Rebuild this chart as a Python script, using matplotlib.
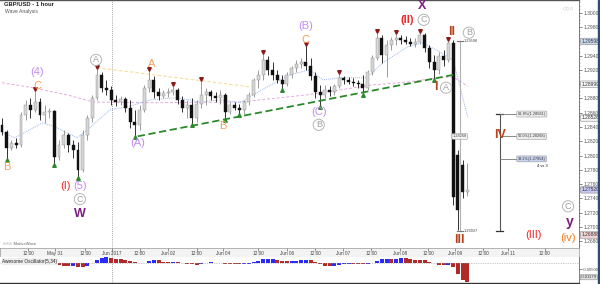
import matplotlib
matplotlib.use('Agg')
import matplotlib.pyplot as plt
from matplotlib.patches import Rectangle
from matplotlib.ticker import MultipleLocator, FixedLocator
import matplotlib.transforms as mtrans
import numpy as np
import pandas as pd

plt.rcParams['font.family'] = ['Liberation Sans', 'DejaVu Sans']

# ---------------- data (2-hour candles, GBP/USD) ----------------
opens = [1.2843,1.2833,1.2811,1.2818,1.2815,1.2857,1.2871,1.2864,1.2875,1.2857,
         1.2861,1.2862,1.2798,1.2815,1.2829,1.2815,1.2808,1.2780,1.2829,1.2853,
         1.2881,1.2913,1.2895,1.2892,1.2878,1.2875,1.2879,1.2867,1.2847,1.2843,
         1.2864,1.2895,1.2906,1.2889,1.2883,1.2888,1.2889,1.2892,1.2878,1.2867,
         1.2871,1.2853,1.2872,1.2885,1.2889,1.2883,1.2881,1.2885,1.2861,1.2871,
         1.2867,1.2864,1.2875,1.2885,1.2906,1.2913,1.2934,1.2920,1.2913,1.2906,
         1.2900,1.2913,1.2923,1.2928,1.2931,1.2925,1.2911,1.2889,1.2885,1.2892,
         1.2889,1.2897,1.2909,1.2906,1.2903,1.2902,1.2900,1.2895,1.2917,1.2937,
         1.2965,1.2941,1.2955,1.2962,1.2965,1.2962,1.2959,1.2956,1.2959,1.2969,
         1.2951,1.2931,1.2920,1.2939,1.2934,1.2958,1.2801,1.2787,1.2749]
highs = [1.2853,1.2836,1.2822,1.2825,1.2861,1.2878,1.2881,1.2892,1.2881,1.2871,
         1.2867,1.2864,1.2822,1.2836,1.2832,1.2822,1.2819,1.2836,1.2857,1.2885,
         1.2923,1.2917,1.2906,1.2897,1.2885,1.2883,1.2882,1.2878,1.2864,1.2871,
         1.2899,1.2920,1.2911,1.2895,1.2892,1.2895,1.2899,1.2895,1.2883,1.2878,
         1.2881,1.2878,1.2907,1.2895,1.2892,1.2889,1.2892,1.2888,1.2875,1.2875,
         1.2872,1.2878,1.2889,1.2909,1.2920,1.2945,1.2939,1.2931,1.2920,1.2913,
         1.2917,1.2925,1.2934,1.2937,1.2955,1.2937,1.2917,1.2899,1.2899,1.2897,
         1.2900,1.2917,1.2911,1.2910,1.2909,1.2906,1.2913,1.2920,1.2941,1.2974,
         1.2969,1.2962,1.2966,1.2973,1.2969,1.2967,1.2965,1.2965,1.2974,1.2972,
         1.2955,1.2941,1.2945,1.2948,1.2963,1.2962,1.2808,1.2794,1.2790]
lows = [1.2829,1.2794,1.2808,1.2811,1.2812,1.2850,1.2853,1.2861,1.2850,1.2846,
        1.2853,1.2787,1.2794,1.2811,1.2805,1.2797,1.2769,1.2777,1.2822,1.2847,
        1.2878,1.2889,1.2885,1.2871,1.2869,1.2871,1.2861,1.2839,1.2827,1.2836,
        1.2861,1.2889,1.2881,1.2878,1.2881,1.2882,1.2885,1.2872,1.2861,1.2853,
        1.2843,1.2847,1.2867,1.2871,1.2878,1.2875,1.2872,1.2851,1.2858,1.2864,
        1.2857,1.2858,1.2871,1.2882,1.2895,1.2906,1.2913,1.2906,1.2902,1.2892,
        1.2897,1.2909,1.2917,1.2923,1.2920,1.2906,1.2881,1.2868,1.2881,1.2883,
        1.2885,1.2895,1.2900,1.2900,1.2897,1.2895,1.2885,1.2892,1.2913,1.2934,
        1.2930,1.2910,1.2948,1.2955,1.2956,1.2956,1.2953,1.2952,1.2956,1.2945,
        1.2923,1.2906,1.2914,1.2925,1.2931,1.2731,1.2696,1.2741,1.2743]
closes = [1.2833,1.2811,1.2818,1.2815,1.2857,1.2871,1.2864,1.2875,1.2857,1.2861,
          1.2862,1.2798,1.2815,1.2829,1.2815,1.2808,1.2780,1.2829,1.2853,1.2881,
          1.2913,1.2895,1.2892,1.2878,1.2875,1.2879,1.2867,1.2847,1.2843,1.2864,
          1.2895,1.2906,1.2889,1.2883,1.2888,1.2889,1.2892,1.2878,1.2867,1.2871,
          1.2853,1.2872,1.2885,1.2889,1.2883,1.2881,1.2885,1.2861,1.2871,1.2867,
          1.2864,1.2875,1.2885,1.2906,1.2913,1.2934,1.2920,1.2913,1.2906,1.2900,
          1.2913,1.2923,1.2928,1.2931,1.2925,1.2911,1.2889,1.2885,1.2892,1.2889,
          1.2897,1.2909,1.2906,1.2903,1.2902,1.2900,1.2895,1.2917,1.2937,1.2965,
          1.2941,1.2955,1.2962,1.2965,1.2962,1.2959,1.2956,1.2959,1.2969,1.2951,
          1.2931,1.2920,1.2939,1.2934,1.2958,1.2742,1.2724,1.2749,1.2752]

swing_high_idx = [7, 20, 31, 36, 42, 55, 64, 71, 79, 83, 88, 94]
swing_low_idx = [1, 11, 16, 28, 40, 47, 50, 59, 67, 76, 91]

# moving averages (bar index, price)
ma_slow_x = [0, 6.5, 13.7, 19.2, 31.2, 50.1, 64.2, 71.2, 78.1, 85.3, 92.2, 95.0, 98.1]
ma_slow_y = [1.2902, 1.2895, 1.2885, 1.2875, 1.2874, 1.2875, 1.2885, 1.2892, 1.2899,
             1.2903, 1.2909, 1.2910, 1.2897]
ma_fast_x = [0, 2.7, 8.6, 11.2, 15.8, 18.5, 22.7, 26.9, 31.2, 36.8, 41.7, 45.9, 50.1,
             55.8, 60.6, 64.8, 67.6, 71.2, 76.8, 80.2, 85.3, 88.6, 92.2, 95.0, 98.1]
ma_fast_y = [1.2833, 1.2825, 1.2846, 1.2840, 1.2825, 1.2839, 1.2864, 1.2869, 1.2878,
             1.2881, 1.2875, 1.2878, 1.2874, 1.2896, 1.2913, 1.2920, 1.2906, 1.2909,
             1.2909, 1.2930, 1.2952, 1.2958, 1.2945, 1.2934, 1.2853]

trend_x = [28.6, 95.0]
trend_y = [1.2827, 1.2913]
yellow_x = [20.0, 53.7]
yellow_y = [1.2923, 1.2895]

# wave labels: (bar, price, text, colour, size, weight, circled)
LP = '#c38cf2'; OR = '#f6a25a'; RD = '#f02828'; BR = '#b5441c'; DP = '#7b1f7e'; GR = '#a0a0a0'
wave_labels = [
    (1.0, 1.2784, 'B', OR, 8, 'normal', False),
    (7.4, 1.2917, '(4)', LP, 8, 'normal', False),
    (7.4, 1.2898, 'C', OR, 8, 'normal', False),
    (13.4, 1.2757, '(I)', RD, 8, 'normal', False),
    (16.4, 1.2757, '(5)', LP, 8, 'normal', False),
    (16.4, 1.2739, 'C', GR, 6.5, 'normal', True),
    (16.4, 1.2718, 'W', DP, 9, 'bold', False),
    (19.8, 1.2934, 'A', GR, 6.5, 'normal', True),
    (28.6, 1.2818, '(A)', LP, 8, 'normal', False),
    (31.6, 1.2928, 'A', OR, 8, 'normal', False),
    (46.5, 1.2841, 'B', OR, 8, 'normal', False),
    (64.0, 1.2981, '(B)', LP, 8, 'normal', False),
    (64.0, 1.2962, 'C', OR, 8, 'normal', False),
    (66.7, 1.2861, '(C)', LP, 8, 'normal', False),
    (66.7, 1.2843, 'B', GR, 6.5, 'normal', True),
    (85.3, 1.2990, '(II)', RD, 8, 'bold', False),
    (88.8, 1.2990, 'C', GR, 6.5, 'normal', True),
    (88.4, 1.3010, 'X', DP, 9, 'bold', False),
    (91.4, 1.2896, 'I', BR, 9, 'bold', False),
    (93.5, 1.2895, 'A', GR, 6.5, 'normal', True),
    (94.7, 1.2973, 'II', BR, 9, 'bold', False),
    (98.3, 1.2972, 'B', GR, 6.5, 'normal', True),
    (96.4, 1.2682, 'III', BR, 9, 'bold', False),
    (104.8, 1.2829, 'IV', BR, 9, 'bold', False),
    (112.0, 1.2689, '(III)', RD, 8, 'normal', False),
    (119.2, 1.2729, 'C', GR, 6.5, 'normal', True),
    (119.6, 1.2707, 'y', DP, 10, 'bold', False),
    (119.2, 1.2685, '(iv)', '#f07a1e', 8, 'normal', False),
]

# measurement / fibonacci tool values
meas_top, meas_bot = 1.29598, 1.26937
fib_levels = [0.618, 0.5, 0.382]

price_ticks = [1.268, 1.270, 1.272, 1.274, 1.276, 1.278, 1.280, 1.282, 1.284, 1.286,
               1.288, 1.290, 1.292, 1.294, 1.296, 1.298, 1.300]
price_boxes = [(1.29598, '1.29598', '#c9daf0'), (1.28999, '1.28999', '#f4f4f4'),
               (1.28526, '1.28526', '#f4f4f4'), (1.27520, '1.27520', '#c6c8f2'),
               (1.26888, '1.26888', '#f2d4d4')]
ao_box_text = '-0.01179'

time_tick_pos = [5.5, 11.2, 17.5, 23.1, 29.0, 35.0, 41.0, 46.5, 53.9, 60.0, 65.9,
                 71.8, 77.7, 83.8, 89.7, 95.4, 101.3, 106.5, 114.3]
time_tick_lab = ['12:00', 'May 31', '12:00', 'Jun 2017', '12:00', 'Jun 02', '12:00',
                 'Jun 04', '12:00', 'Jun 06', '12:00', 'Jun 07', '12:00', 'Jun 08',
                 '12:00', 'Jun 09', '12:00', 'Jun 11', '12:00']
separator_pos = 23.1

# ---------------- figure ----------------
W, H = 600, 284
fig = plt.figure(figsize=(6, 2.84), dpi=100)
fig.patch.set_facecolor('white')

def px_ax(x0, y0, x1, y1):
    return fig.add_axes([x0 / W, 1 - y1 / H, (x1 - x0) / W, (y1 - y0) / H])

ax = px_ax(0, 0, 579, 248)
axt = px_ax(0, 248, 579, 257)
axo = px_ax(0, 257, 579, 283)

XMIN, XMAX = -0.42, 121.5
n = len(closes)
xs = np.arange(n)
o = np.array(opens); h = np.array(highs); l = np.array(lows); c = np.array(closes)

# candles
up = c >= o
ax.vlines(xs[up], l[up], h[up], colors='#8c8c8c', lw=0.6, zorder=3)
ax.vlines(xs[~up], l[~up], h[~up], colors='#111111', lw=0.6, zorder=3)
body_lo = np.minimum(o, c)
body_h = np.maximum(np.abs(c - o), 0.00005)
ax.bar(xs[up], body_h[up], bottom=body_lo[up], width=0.62, color='#d6d6d6',
       edgecolor='#8a8a8a', lw=0.3, zorder=4)
ax.bar(xs[~up], body_h[~up], bottom=body_lo[~up], width=0.62, color='#111111',
       edgecolor='#111111', lw=0.3, zorder=4)

# swing markers
ax.plot(xs[swing_high_idx], h[swing_high_idx] + 0.00005, 'v', color='#8b1a1a', ms=2.6, zorder=5)
ax.plot(xs[swing_low_idx], l[swing_low_idx] - 0.00005, '^', color='#2f8a2f', ms=2.6, zorder=5)

# moving averages, trend lines
ax.plot(ma_slow_x, ma_slow_y, color='#e8a8e0', lw=0.7, ls=(0, (3, 2)), zorder=2)
ax.plot(ma_fast_x, ma_fast_y, color='#9ab8f0', lw=0.7, ls=(0, (1, 1)), zorder=2)
ax.plot(trend_x, trend_y, color='#2a8a2a', lw=1.3, ls=(0, (4, 2)), zorder=6)
ax.plot(yellow_x, yellow_y, color='#f7dc9a', lw=0.8, ls=(0, (3, 2)), zorder=2)

# separator
for a in (ax, axt, axo):
    a.axvline(separator_pos, color='#888888', lw=0.6, ls=(0, (1, 1.5)), zorder=1)

# wave labels
for (bx, py, txt, col, fs, fw, circ) in wave_labels:
    kw = {}
    if circ:
        kw['bbox'] = dict(boxstyle='circle,pad=0.12', fc='white', ec='#b5b5b5', lw=0.7)
    ax.text(bx, py, txt, color=col, fontsize=fs, fontweight=fw, ha='center',
            va='center', zorder=8, **kw)

# measurement line (gray) at the drop
mx = 96.4
ax.plot([mx, mx], [meas_bot, meas_top], color='#b0b0b0', lw=0.8, zorder=6)
ax.plot([mx - 0.6, mx + 0.6], [meas_top, meas_top], color='#777777', lw=0.8, zorder=6)
ax.plot([mx - 0.6, mx + 0.6], [meas_bot, meas_bot], color='#777777', lw=0.8, zorder=6)
ax.text(mx + 0.9, meas_top, f'{meas_top:.5f}', fontsize=2.8, color='#444', va='center', zorder=7)
ax.text(mx + 0.9, meas_bot, f'{meas_bot:.5f}', fontsize=2.8, color='#444', va='center', zorder=7)
ax.text(mx, (meas_top + meas_bot) / 2, f'{(meas_top + meas_bot) / 2:.5f}', fontsize=2.8,
        color='#444', ha='center', va='center', zorder=7,
        bbox=dict(boxstyle='round,pad=0.2', fc='#f4f4f4', ec='#999', lw=0.4))

# fibonacci retracement tool
fx = 104.8
fib_prices = [meas_bot + f * (meas_top - meas_bot) for f in fib_levels]
ax.plot([fx, fx], [meas_bot, fib_prices[0]], color='#555555', lw=0.8, zorder=6)
for yv in (meas_bot, fib_prices[0]):
    ax.plot([fx - 0.8, fx + 0.8], [yv, yv], color='#333333', lw=0.9, zorder=6)
for f, pv in zip(fib_levels, fib_prices):
    ax.plot([fx, fx + 3.6], [pv, pv], color='#777777', lw=0.6, zorder=6)
    fc = '#c8d2ee' if f == 0.382 else '#ececec'
    ax.text(fx + 3.8, pv, f'{f * 100:.1f}%({pv:.5f})', fontsize=2.8, color='#333',
            va='center', ha='left', zorder=7,
            bbox=dict(boxstyle='round,pad=0.25', fc=fc, ec='#999', lw=0.4))
ax.text(fx + 9.0, fib_prices[2] - 0.00095, '4 vs 3', fontsize=2.8, color='#111',
        ha='center', va='center', zorder=7)

# price axis (tick labels hidden where a value box sits)
box_vals = [b[0] for b in price_boxes]
tick_labels = ['' if min(abs(v - b) for b in box_vals) < 0.0004 else f'{v:.5f}'
               for v in price_ticks]
ax.set_xlim(XMIN, XMAX)
ax.set_ylim(1.26706, 1.30178)
ax.yaxis.tick_right()
ax.yaxis.set_major_locator(FixedLocator(price_ticks))
ax.set_yticklabels(tick_labels)
ax.yaxis.set_minor_locator(MultipleLocator(0.0005))
ax.tick_params(axis='y', which='major', labelsize=3.6, length=2, width=0.5,
               colors='#555', pad=1)
ax.tick_params(axis='y', which='minor', length=1, width=0.4, colors='#777')
ax.set_xticks([])
for s in ('left', 'bottom'):
    ax.spines[s].set_visible(False)
ax.spines['right'].set_color('#666')
ax.spines['right'].set_linewidth(0.6)
ax.spines['top'].set_color('#555')
ax.spines['top'].set_linewidth(1.0)
btr = mtrans.blended_transform_factory(ax.transAxes, ax.transData)
for pv, txt, fc in price_boxes:
    ax.text(1.004, pv, txt, transform=btr, fontsize=3.5, color='#333', va='center',
            ha='left', clip_on=False, zorder=9,
            bbox=dict(boxstyle='round,pad=0.15', fc=fc, ec='#888', lw=0.4))

# texts top-left
fig.text(4 / W, 1 - 5 / H, 'GBP/USD - 1 hour', fontsize=4.2, fontweight='bold',
         color='#222', va='center', ha='left')
fig.text(5 / W, 1 - 12 / H, 'Wave Analysis', fontsize=3.6, color='#555',
         va='center', ha='left')
fig.text(3 / W, 1 - 244 / H, '\u00a9\u00a9\u00a9 MotiveWave', fontsize=3.0, color='#666',
         va='center', ha='left')
fig.text(563 / W, 1 - 8 / H, '\u25c7\u25c7\u25c7', fontsize=3.5, color='#aaa',
         va='center', ha='left')

# time axis strip
axt.set_xlim(XMIN, XMAX)
axt.set_ylim(0, 1)
axt.set_facecolor('#f3f3f3')
axt.set_xticks([]); axt.set_yticks([])
for s in axt.spines.values():
    s.set_color('#999'); s.set_linewidth(0.5)
axt.vlines(time_tick_pos, 0.72, 1.0, color='#666', lw=0.5)
for p, t in zip(time_tick_pos, time_tick_lab):
    axt.text(p, 0.38, t, fontsize=3.4, color='#444', ha='center', va='center')

# Awesome oscillator (median price, short vs long average)
med = pd.Series((h + l) / 2)
ao = (med.rolling(3, min_periods=1).mean() - med.rolling(17, min_periods=1).mean()).values
ao_col = ['#2b2bf5' if (i > 0 and ao[i] > ao[i - 1]) else '#b02a2a' for i in range(n)]
axo.bar(xs, ao, width=0.85, color=ao_col, lw=0)
axo.axhline(0, color='#999', lw=0.5, ls=(0, (1, 1.5)))
axo.set_xlim(XMIN, XMAX)
axo.set_ylim(ao.min() * 1.06, -ao.min() * 0.33)
axo.yaxis.tick_right()
axo.set_yticks([-0.005])
axo.set_yticklabels(['-0.00500'])
axo.tick_params(axis='y', labelsize=3.1, length=2, width=0.5, colors='#555', pad=0.5)
axo.set_xticks([])
for s in ('left', 'top'):
    axo.spines[s].set_visible(False)
axo.spines['right'].set_color('#666'); axo.spines['right'].set_linewidth(0.6)
axo.spines['bottom'].set_color('#333'); axo.spines['bottom'].set_linewidth(1.0)
axo.text(1.003, 0.22, ao_box_text, transform=axo.transAxes, fontsize=3.1, color='#333',
         va='center', ha='left', clip_on=False,
         bbox=dict(boxstyle='round,pad=0.12', fc='#e2e2e2', ec='#888', lw=0.4))
axo.text(0.004, 0.93, 'Awesome Oscillator(5,34)', transform=axo.transAxes, fontsize=3.4,
         color='#222', va='top', ha='left',
         bbox=dict(boxstyle='square,pad=0.15', fc='#eeeeee', ec='none'))

# right border band
fig.add_artist(Rectangle((598 / W, 0), 2 / W, 1, transform=fig.transFigure,
                         color='#2c4c7c', zorder=10))

fig.savefig('out.png', dpi=100)
